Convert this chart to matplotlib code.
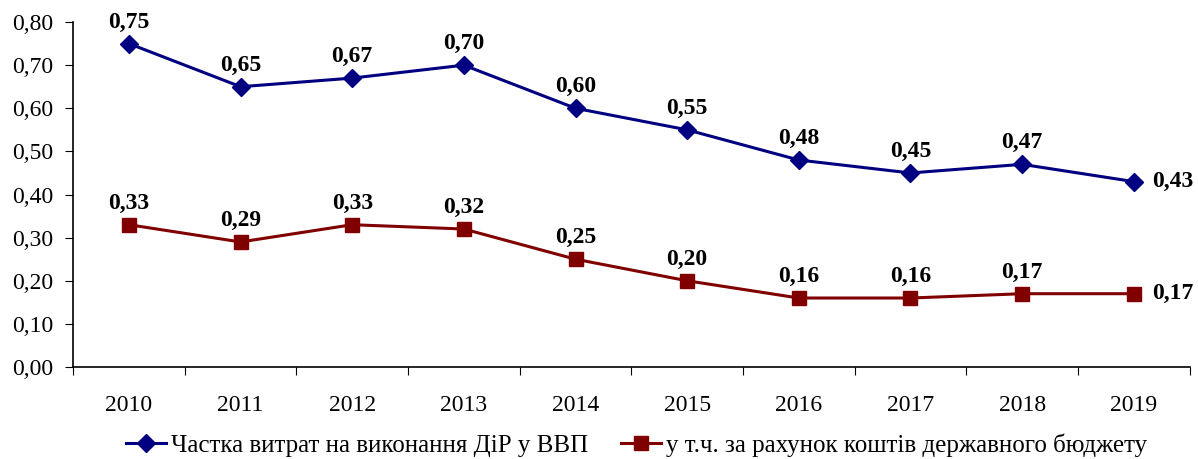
import matplotlib.pyplot as plt
import numpy as np

# Дані
years = ["2010", "2011", "2012", "2013", "2014", "2015", "2016", "2017", "2018", "2019"]
share_gdp = [0.75, 0.65, 0.67, 0.70, 0.60, 0.55, 0.48, 0.45, 0.47, 0.43]
share_budget = [0.33, 0.29, 0.33, 0.32, 0.25, 0.20, 0.16, 0.16, 0.17, 0.17]
labels = ["Частка витрат на виконання ДіР у ВВП",
          "у т.ч. за рахунок коштів державного бюджету"]
y_ticks = [0.0, 0.1, 0.2, 0.3, 0.4, 0.5, 0.6, 0.7, 0.8]

plt.rcParams["font.family"] = ["Liberation Serif", "DejaVu Serif"]
fs = 17

fig = plt.figure(figsize=(11.98, 4.59), dpi=100)
ax = fig.add_axes([0.061, 0.2004, 0.932, 0.7516])

x = np.arange(len(years))
ax.plot(x, share_gdp, color="#000080", lw=2.2, marker="D", ms=9,
        label=labels[0])
ax.plot(x, share_budget, color="#800000", lw=2.2, marker="s", ms=9.5,
        label=labels[1])

# Підписи значень
for serie in (share_gdp, share_budget):
    for i, v in enumerate(serie):
        txt = f"{v:.2f}".replace(".", ",")
        if i == len(serie) - 1:
            ax.annotate(txt, (x[i], v), xytext=(13, 0),
                        textcoords="offset points", ha="left", va="center",
                        fontsize=fs, fontweight="bold")
        else:
            ax.annotate(txt, (x[i], v), xytext=(0, 8),
                        textcoords="offset points", ha="center",
                        va="bottom", fontsize=fs, fontweight="bold",
                        annotation_clip=False)

# Осі
ax.set_xlim(-0.5, len(years) - 0.5)
ax.set_ylim(0, 0.8)
ax.set_xticks(np.arange(-0.5, len(years), 1.0))
ax.set_xticklabels([])
ax.set_xticks(x, minor=True)
ax.set_xticklabels(years, minor=True, fontsize=fs)
ax.tick_params(axis="x", which="minor", length=0, pad=20)
ax.tick_params(axis="x", which="major", direction="out", length=6)
ax.set_yticks(y_ticks)
ax.set_yticklabels([f"{t:.2f}".replace(".", ",") for t in y_ticks],
                   fontsize=fs)
ax.tick_params(axis="y", direction="out", length=6, pad=8)
for side in ("top", "right"):
    ax.spines[side].set_visible(False)
for side in ("left", "bottom"):
    ax.spines[side].set_linewidth(1.2)

ax.legend(loc="center", bbox_to_anchor=(0.505, -0.226), ncol=2,
          frameon=False, fontsize=18, handlelength=1.6, handletextpad=0.2,
          columnspacing=1.3, borderpad=0, borderaxespad=0)

fig.savefig("out.png", dpi=100)
